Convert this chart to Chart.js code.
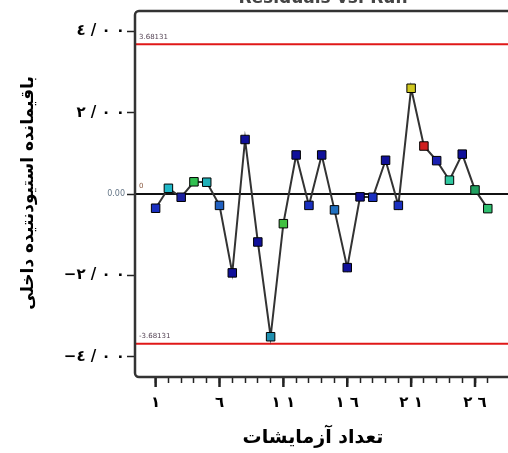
<!DOCTYPE html>
<html>
<head>
<meta charset="utf-8">
<script src="https://cdn.jsdelivr.net/npm/chart.js@4.4.1/dist/chart.umd.min.js"></script>
<style>
html, body { margin: 0; padding: 0; background: #fff; overflow: hidden; }
#wrap { width: 508px; height: 453px; overflow: hidden; position: relative; }
canvas { display: block; }
</style>
</head>
<body>
<div id="wrap"><canvas id="c" width="540" height="453"></canvas></div>
<script>
// داده‌ها
const runs = [1, 2, 3, 4, 5, 6, 7, 8, 9, 10, 11, 12, 13, 14, 15, 16, 17, 18, 19, 20, 21, 22, 23, 24, 25, 26, 27];
const residuals = [-0.35, 0.14, -0.08, 0.30, 0.29, -0.28, -1.94, 1.34, -1.18, -3.51, -0.73, 0.96, -0.28, 0.96,
                   -0.39, -1.81, -0.07, -0.08, 0.83, -0.28, 2.60, 1.18, 0.82, 0.34, 0.98, 0.10, -0.36];
const limits = [3.68131, -3.68131];
const limitLabels = ['3.68131', '-3.68131'];
const yTickValues = [4, 2, 0, -2, -4];
const yTickLabels = ['٤ / ٠ ٠', '٢ / ٠ ٠', '0.00', '−٢ / ٠ ٠', '−٤ / ٠ ٠'];
const xTickValues = [1, 6, 11, 16, 21, 26];
const xTickLabels = ['١', '٦', '١ ١', '١ ٦', '٢ ١', '٢ ٦'];

const pointColors = ['#1a30c0', '#20b8c8', '#1a20a0', '#30c050', '#20b0b8', '#2060c0', '#10109a', '#10109a', '#10109a',
                     '#2090b0', '#40c040', '#10109a', '#1a30c0', '#10109a', '#2070c0', '#10109a', '#10109a', '#1a30c0',
                     '#10109a', '#1a30c0', '#d0c820', '#d02020', '#1a20b0', '#30c8a0', '#10109a', '#20a060', '#30c070'];

const FONT = '"DejaVu Sans", sans-serif';
const LRO = '\u202D', PDF = '\u202C';

// خطوط حد، کادر و عنوان‌ها
const limitLines = {
    id: 'limitLines',
    beforeDatasetsDraw(chart) {
        const { ctx, chartArea: a, scales: { x, y } } = chart;
        ctx.save();
        ctx.lineWidth = 2;
        ctx.strokeStyle = '#e01818';
        limits.forEach(v => {
            const py = y.getPixelForValue(v);
            ctx.beginPath(); ctx.moveTo(a.left, py); ctx.lineTo(a.right, py); ctx.stroke();
        });
        ctx.strokeStyle = '#111';
        const p0 = y.getPixelForValue(0);
        ctx.beginPath(); ctx.moveTo(a.left, p0); ctx.lineTo(a.right, p0); ctx.stroke();

        ctx.font = '7px ' + FONT;
        ctx.fillStyle = '#554455';
        ctx.textBaseline = 'bottom';
        limits.forEach((v, i) => ctx.fillText(limitLabels[i], a.left + 4, y.getPixelForValue(v) - 4));
        ctx.fillStyle = '#8a5a40';
        ctx.fillText('0', a.left + 4, p0 - 4);

        // تیک‌های اصلی محور افقی بلندتر
        ctx.strokeStyle = '#222';
        ctx.lineWidth = 2.5;
        xTickValues.forEach(v => {
            const px = x.getPixelForValue(v);
            ctx.beginPath(); ctx.moveTo(px, a.bottom); ctx.lineTo(px, a.bottom + 10); ctx.stroke();
        });
        ctx.restore();
    },
    afterDatasetsDraw(chart) {
        const { ctx, chartArea: a } = chart;
        ctx.save();
        ctx.lineWidth = 2.5;
        ctx.strokeStyle = '#333';
        ctx.beginPath();
        ctx.roundRect(a.left, a.top, a.right - a.left + 10, a.bottom - a.top, 4);
        ctx.stroke();
        ctx.restore();
    },
    afterDraw(chart) {
        const { ctx } = chart;
        ctx.save();
        ctx.textAlign = 'center';
        ctx.textBaseline = 'alphabetic';
        ctx.font = 'bold 17px ' + FONT;
        ctx.fillStyle = '#444';
        ctx.fillText('Residuals vs. Run', 323, 3);
        ctx.fillStyle = '#000';
        ctx.textBaseline = 'middle';
        ctx.font = 'bold 19px ' + FONT;
        ctx.fillText('تعداد آزمایشات', 313, 438);
        ctx.translate(29, 193);
        ctx.rotate(-Math.PI / 2);
        ctx.font = 'bold 17px ' + FONT;
        ctx.fillText('باقیمانده استیودنتیده داخلی', 0, 0);
        ctx.restore();
    }
};

new Chart(document.getElementById('c'), {
    type: 'line',
    data: {
        datasets: [{
            data: runs.map((r, i) => ({ x: r, y: residuals[i] })),
            borderColor: '#333',
            borderWidth: 2,
            tension: 0,
            pointStyle: 'rect',
            pointRadius: 6,
            pointBackgroundColor: pointColors,
            pointBorderColor: '#000',
            pointBorderWidth: 1
        }]
    },
    options: {
        responsive: false,
        devicePixelRatio: 1,
        animation: false,
        layout: { padding: { top: 10, left: 0, right: 0, bottom: 0 } },
        plugins: { legend: { display: false }, tooltip: { enabled: false } },
        scales: {
            x: {
                type: 'linear',
                min: -0.615,
                max: 30.54,
                afterFit: s => { s.height = 76; },
                afterBuildTicks: s => { s.ticks = runs.map(v => ({ value: v })); },
                border: { display: false },
                grid: { drawOnChartArea: false, tickLength: 6, tickColor: '#222', tickWidth: 1.5 },
                ticks: {
                    autoSkip: false,
                    maxRotation: 0,
                    padding: 11,
                    color: '#000',
                    font: { family: FONT, size: 15, weight: 'bold' },
                    callback: v => {
                        const i = xTickValues.indexOf(v);
                        return i >= 0 ? LRO + xTickLabels[i] + PDF : '';
                    }
                }
            },
            y: {
                min: -4.5,
                max: 4.5,
                afterFit: s => { s.width = 135; },
                afterBuildTicks: s => { s.ticks = yTickValues.map(v => ({ value: v })); },
                border: { display: false },
                grid: { drawOnChartArea: false, tickLength: 8, tickColor: '#222', tickWidth: 1.5 },
                ticks: {
                    padding: 2,
                    color: c => c.tick && c.tick.value === 0 ? '#667788' : '#000',
                    font: c => c.tick && c.tick.value === 0
                        ? { family: FONT, size: 8 }
                        : { family: FONT, size: 15, weight: 'bold' },
                    callback: v => LRO + yTickLabels[yTickValues.indexOf(v)] + PDF
                }
            }
        }
    },
    plugins: [limitLines]
});
</script>
</body>
</html>
